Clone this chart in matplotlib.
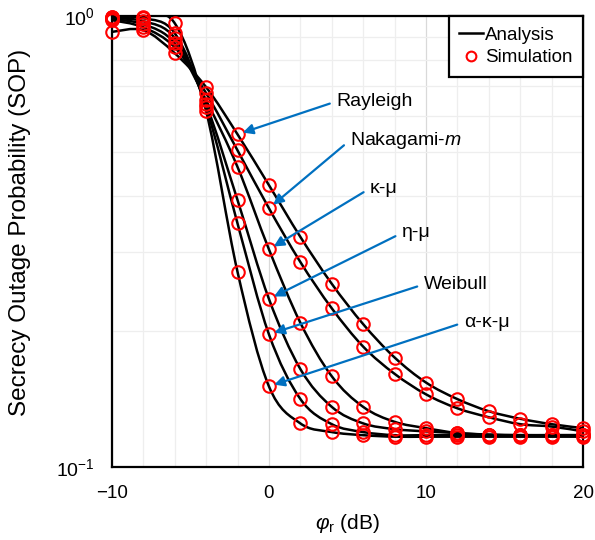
import numpy as np
import matplotlib
matplotlib.use("Agg")
import matplotlib.pyplot as plt
from matplotlib.path import Path
from matplotlib.patches import PathPatch
from matplotlib.lines import Line2D
from matplotlib.ticker import MultipleLocator, FixedLocator, LogFormatterSciNotation, NullFormatter

plt.rcParams["font.family"] = ["Liberation Sans", "DejaVu Sans"]
plt.rcParams["mathtext.fontset"] = "custom"
plt.rcParams["mathtext.rm"] = "Liberation Sans"
plt.rcParams["mathtext.it"] = "Liberation Sans:italic"
plt.rcParams["mathtext.bf"] = "Liberation Sans:bold"

# SNR-like parameter phi_r in dB
phi_db = [-10, -8, -6, -4, -2, 0, 2, 4, 6, 8, 10, 12, 14, 16, 18, 20]

# Secrecy outage probability per fading model
sop_rayleigh = [0.923, 0.931, 0.828, 0.696, 0.547, 0.422, 0.324, 0.255,
                0.2075, 0.175, 0.154, 0.1415, 0.133, 0.128, 0.1245, 0.122]
sop_nakagami = [0.980, 0.945, 0.853, 0.675, 0.504, 0.375, 0.285, 0.225,
                0.185, 0.161, 0.145, 0.135, 0.129, 0.1245, 0.123, 0.120]
sop_kappa_mu = [0.985, 0.960, 0.871, 0.651, 0.463, 0.304, 0.209, 0.159,
                0.136, 0.126, 0.122, 0.119, 0.118, 0.1177, 0.1177, 0.1177]
sop_eta_mu = [0.990, 0.975, 0.894, 0.638, 0.391, 0.236, 0.165, 0.136,
              0.125, 0.1214, 0.120, 0.119, 0.118, 0.1177, 0.1177, 0.1177]
sop_weibull = [0.995, 0.990, 0.917, 0.628, 0.347, 0.197, 0.1416, 0.1245,
               0.1196, 0.1177, 0.1177, 0.1177, 0.1177, 0.1177, 0.1177, 0.1177]
sop_alpha_kappa_mu = [0.997, 0.998, 0.965, 0.616, 0.271, 0.151, 0.125, 0.1196,
                      0.1177, 0.1168, 0.1168, 0.1168, 0.1168, 0.1168, 0.1168, 0.1168]

model_names = ["Rayleigh", "Nakagami-$m$", "κ-μ", "η-μ", "Weibull", "α-κ-μ"]
model_sop = [sop_rayleigh, sop_nakagami, sop_kappa_mu, sop_eta_mu,
             sop_weibull, sop_alpha_kappa_mu]

# annotation anchor x (dB) per model and label offsets in pixels
label_at_db = [-2, 0, 0, 0, 0, 0]
label_offsets = [(99, 33), (81, 68), (101, 61), (133, 66), (155, 50), (195, 64)]


def smoothed_path(x, y):
    """Cubic Bezier smoothed line through (x, y), smoothing done in log-y space."""
    pts = np.column_stack([np.asarray(x, float), np.log10(np.asarray(y, float))])
    ext = np.vstack([pts[0], pts, pts[-1]])
    verts = [pts[0]]
    codes = [Path.MOVETO]
    for i in range(len(pts) - 1):
        p0, p1, p2, p3 = ext[i], ext[i + 1], ext[i + 2], ext[i + 3]
        c1 = p1 + (p2 - p0) / 6.0
        c2 = p2 - (p3 - p1) / 6.0
        verts += [c1, c2, p2]
        codes += [Path.CURVE4] * 3
    v = np.array(verts)
    v[:, 1] = 10 ** v[:, 1]
    return Path(v, codes)


fig = plt.figure(figsize=(5.95, 5.40), dpi=100)
ax = fig.add_axes([0.188, 0.135, 0.792, 0.835])
ax.set_yscale("log")
ax.set_xlim(-10, 20)
ax.set_ylim(0.1, 1.0)

# grid
ax.xaxis.set_major_locator(MultipleLocator(10))
ax.xaxis.set_minor_locator(MultipleLocator(2))
ax.yaxis.set_major_locator(FixedLocator([0.1, 1.0]))
ax.yaxis.set_minor_locator(FixedLocator([0.2, 0.3, 0.4, 0.5, 0.6, 0.7, 0.8, 0.9]))
ax.yaxis.set_major_formatter(LogFormatterSciNotation())
ax.yaxis.set_minor_formatter(NullFormatter())
ax.grid(True, which="major", color="#D9D9D9", lw=0.9)
ax.grid(True, which="minor", color="#EEEEEE", lw=0.9)
ax.set_axisbelow(True)
ax.tick_params(which="both", length=0)
ax.tick_params(axis="x", pad=13, labelsize=13.5)
ax.tick_params(axis="y", pad=12, labelsize=14)
for sp in ax.spines.values():
    sp.set_linewidth(1.6)
    sp.set_color("black")

for sop in model_sop:
    ax.add_patch(PathPatch(smoothed_path(phi_db, sop), fill=False,
                           edgecolor="black", lw=1.8, transform=ax.transData,
                           zorder=3))
    ax.plot(phi_db, sop, ls="none", marker="o", mfc="none", mec="#FF0000",
            ms=9, mew=1.5, zorder=4, clip_on=False)

for name, sop, xdb, off in zip(model_names, model_sop, label_at_db, label_offsets):
    yv = sop[phi_db.index(xdb)]
    ax.annotate(name, xy=(xdb, yv), xytext=off, textcoords="offset pixels",
                ha="left", va="center", fontsize=14, color="black", zorder=6,
                arrowprops=dict(arrowstyle="-|>,head_length=0.6,head_width=0.3",
                                color="#0070C0", lw=1.6, shrinkA=3, shrinkB=4,
                                relpos=(0, 0.5), mutation_scale=10))

handles = [Line2D([], [], color="black", lw=1.8),
           Line2D([], [], ls="none", marker="o", mfc="none", mec="#FF0000",
                  ms=7, mew=1.5)]
leg = ax.legend(handles, ["Analysis", "Simulation"], loc="upper right",
                fontsize=13.5, frameon=True, fancybox=False, borderaxespad=0,
                handlelength=1.3, handletextpad=0.1, labelspacing=0.3,
                borderpad=0.55, framealpha=1)
leg.get_frame().set_edgecolor("black")
leg.get_frame().set_linewidth(1.6)
leg.set_zorder(7)

ax.set_xlabel(r"$\varphi_{\rm r}$ (dB)", fontsize=15)
ax.set_ylabel("Secrecy Outage Probability (SOP)", fontsize=17.5)
ax.xaxis.set_label_coords(0.5, -0.1)
ax.yaxis.set_label_coords(-0.172, 0.52)

fig.savefig("out.png", dpi=100)
